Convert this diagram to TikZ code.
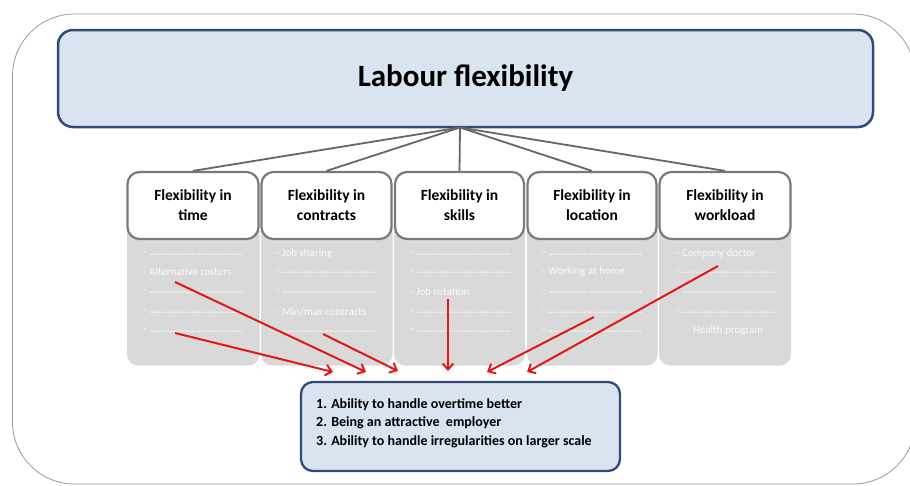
\documentclass[tikz,border=0pt]{standalone}
\usepackage{fontspec}
\setmainfont{Carlito}
\usetikzlibrary{arrows.meta}
\definecolor{titlefill}{HTML}{DAE3F0}
\definecolor{titledraw}{HTML}{2E4B7A}
\definecolor{catdraw}{HTML}{7A7A7A}
\definecolor{panelfill}{HTML}{D9D9D9}
\definecolor{paneltext}{HTML}{FAFAFA}
\definecolor{linkgray}{HTML}{666666}
\definecolor{arrowred}{HTML}{E01818}
\definecolor{framegray}{HTML}{9A9A9A}
\newcommand\drow{\makebox[92pt][l]{\scalebox{0.8}[1]{\bfseries........................................}}}
\tikzset{
  titlebox/.style={draw=titledraw, line width=2.5pt, fill=titlefill, rounded corners=15pt,
    minimum width=815pt, minimum height=97pt, font=\fontsize{31}{36}\selectfont\bfseries},
  catbox/.style={draw=catdraw, line width=2.2pt, fill=white, rounded corners=12pt,
    minimum height=67pt, align=center, font=\fontsize{15.5}{20}\selectfont\bfseries},
  panel/.style={fill=panelfill, rounded corners=11pt},
  ptext/.style={anchor=west, text=paneltext, inner sep=0pt, font=\fontsize{11}{12}\selectfont},
  resbox/.style={draw=titledraw, line width=2.3pt, fill=titlefill, rounded corners=12pt,
    minimum width=319pt, minimum height=89pt},
  link/.style={draw=linkgray, line width=1.8pt},
  redarrow/.style={draw=arrowred, line width=2pt, -{Straight Barb[length=6pt,width=11pt,line width=2pt]}},
}
\begin{document}
\begin{tikzpicture}[x=1pt,y=-1pt]
\useasboundingbox (0,0) rectangle (910,485);
% outer frame
\draw[framegray, line width=0.8pt, rounded corners=62pt] (12.5,14) rectangle (915,484);
% gray panels
\fill[panel] (127,215) rectangle (259.5,365.5);
\fill[panel] (261,215) rectangle (392.5,365.5);
\fill[panel] (394,215) rectangle (525,365.5);
\fill[panel] (527,215) rectangle (657.5,365.5);
\fill[panel] (659,215) rectangle (791,365.5);
% title
\node[titlebox] (title) at (465.5,78.5) {\raisebox{-3pt}{Labour flexibility}};
% category boxes
\node[catbox, minimum width=131pt] (c1) at (193,205.5) {Flexibility in\\time};
\node[catbox, minimum width=130pt] (c2) at (326.5,205.5) {Flexibility in\\contracts};
\node[catbox, minimum width=129pt] (c3) at (459.5,205.5) {Flexibility in\\skills};
\node[catbox, minimum width=129pt] (c4) at (592,205.5) {Flexibility in\\location};
\node[catbox, minimum width=131pt] (c5) at (725,205.5) {Flexibility in\\workload};
% links
\coordinate (hub) at (460,127.5);
\foreach \c in {c1,c2,c3,c4,c5} \draw[link] (hub) -- (\c.north);
% panel texts column 1
\node[ptext] (t11) at (143,254) {- \drow};
\node[ptext] (t12) at (143,272) {- Alternative rosters};
\node[ptext] (t13) at (143,292) {- \drow};
\node[ptext] (t14) at (143,312) {- \drow};
\node[ptext] (t15) at (143,331) {- \drow};
% column 2
\node[ptext] (t21) at (276,254) {- Job sharing};
\node[ptext] (t22) at (276,272) {- \drow};
\node[ptext] (t23) at (276,292) {- \drow};
\node[ptext] (t24) at (276,312) {- Min/max contracts};
\node[ptext] (t25) at (276,331) {- \drow};
% column 3
\node[ptext] (t31) at (410,254) {- \drow};
\node[ptext] (t32) at (410,272) {- \drow};
\node[ptext] (t33) at (410,292) {- Job rotation};
\node[ptext] (t34) at (410,312) {- \drow};
\node[ptext] (t35) at (410,331) {- \drow};
% column 4
\node[ptext] (t41) at (542,254) {- \drow};
\node[ptext] (t42) at (542,272) {- Working at home};
\node[ptext] (t43) at (542,292) {- \drow};
\node[ptext] (t44) at (542,312) {- \drow};
\node[ptext] (t45) at (542,331) {- \drow};
% column 5
\node[ptext] (t51) at (676,254) {- Company doctor};
\node[ptext] (t52) at (676,272) {- \drow};
\node[ptext] (t53) at (676,292) {- \drow};
\node[ptext] (t54) at (676,312) {- \drow};
\node[ptext] (t55) at (687,331) {- Health program};
% result box
\node[resbox] (res) at (460.5,426.5) {};
\node[anchor=west, align=left, inner sep=0pt, font=\fontsize{14}{18.5}\selectfont\bfseries] (restext) at (316,423)
  {1. Ability to handle overtime better\\2. Being an attractive\ \ employer\\3. Ability to handle irregularities on larger scale};
% red arrows
\coordinate (s1) at (175,333); \coordinate (e1) at (333,372);
\coordinate (s2) at (175,282); \coordinate (e2) at (366,372);
\coordinate (s3) at (323,334); \coordinate (e3) at (398,371);
\coordinate (s4) at (448,299); \coordinate (e4) at (448,371);
\coordinate (s5) at (594,317); \coordinate (e5) at (487,372);
\coordinate (s6) at (718,266); \coordinate (e6) at (527,372);
\foreach \i in {1,...,6} \draw[redarrow] (s\i) -- (e\i);
\end{tikzpicture}
\end{document}
